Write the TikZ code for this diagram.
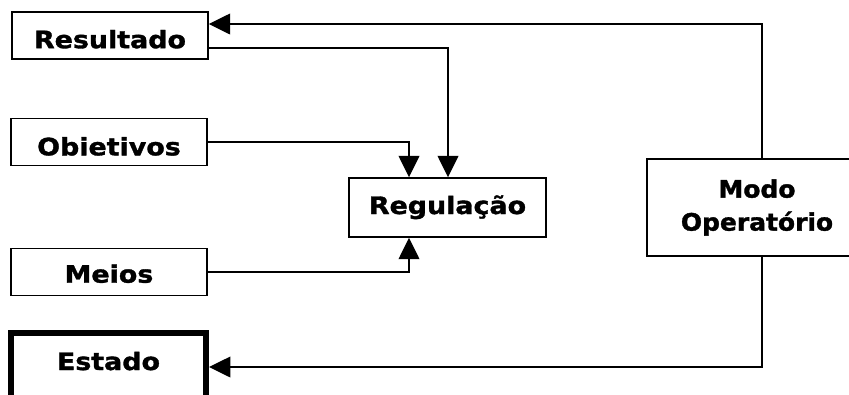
\documentclass[tikz,border=0pt]{standalone}
\usepackage{fontspec}
\setmainfont{DejaVu Sans}[FakeStretch=1.12, BoldFeatures={FakeBold=1.4}]
\newfontfamily\modofont{DejaVu Sans}[FakeStretch=1.04, BoldFeatures={FakeBold=1.4}]
\usetikzlibrary{arrows.meta}
\begin{document}
\begin{tikzpicture}[x=0.75pt,y=-0.75pt,
  box/.style={draw, line width=1.1pt, minimum width=147pt, minimum height=35.5pt, inner sep=0pt,
    font=\fontsize{18pt}{24.75pt}\selectfont\bfseries},
  base/.style={text height=#1, text depth=0pt},
  arr/.style={line width=1.1pt, -{Triangle[length=16pt,width=15.5pt]}}
]
\useasboundingbox (0,0) rectangle (849,394);
\clip (0,0) rectangle (849,394);

\node[box, base=19pt] (resultado) at (110,35.5) {Resultado};
\node[box, base=20pt] (obietivos) at (109,142) {Obietivos};
\node[box, base=16pt] (meios) at (109,272) {Meios};
\node[box, base=9.75pt, minimum width=147.75pt, minimum height=44.25pt] (regulacao) at (447.5,207.5) {Regulação};
\node[box, minimum width=165pt, minimum height=72.75pt, align=center,
  font=\fontsize{18pt}{24.75pt}\selectfont\modofont\bfseries] (modo) at (757,207.5) {Modo\\Operatório};
\node[box, line width=4.5pt, anchor=north, minimum width=146.25pt, minimum height=0pt,
  text height=27.75pt, text depth=37.5pt] (estado) at (108.5,330) {Estado};

\coordinate (top) at (762,24);
\coordinate (bot) at (762,367);
\coordinate (rr) at (448,48);
\coordinate (col) at (409,0);

\draw[arr] (top |- modo.north) -- (top) -- (top -| resultado.east);
\draw[arr] (bot |- modo.south) -- (bot) -- (bot -| estado.east);
\draw[arr] (rr -| resultado.east) -- (rr) -- (rr |- regulacao.north);
\draw[arr] (obietivos.east) -| (col |- regulacao.north);
\draw[arr] (meios.east) -| (col |- regulacao.south);
\end{tikzpicture}
\end{document}
